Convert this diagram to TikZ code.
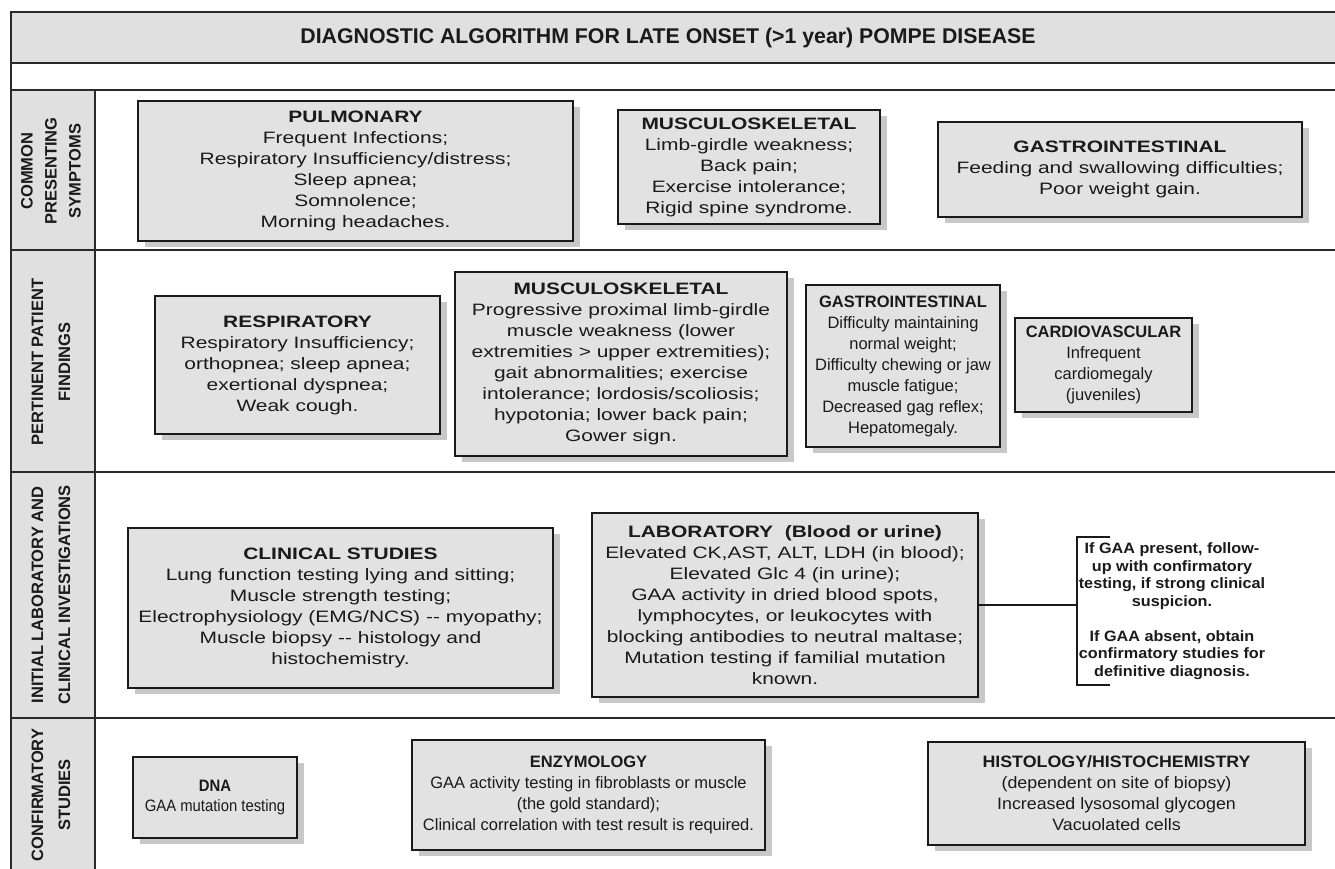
\documentclass[tikz,border=0pt]{standalone}
\usepackage{fontspec}
\setmainfont{Liberation Sans}
\newfontfamily\fW[FakeStretch=1.27]{Liberation Sans}
\newfontfamily\fM[FakeStretch=1.08]{Liberation Sans}
\newfontfamily\fN[FakeStretch=1.0]{Liberation Sans}
\newfontfamily\fS[FakeStretch=0.9]{Liberation Sans}
\usetikzlibrary{shadows}
\definecolor{boxfill}{HTML}{E2E2E2}
\definecolor{bandfill}{HTML}{E0E0E0}
\definecolor{ink}{HTML}{1A1A1A}
\definecolor{rulec}{HTML}{2A2A2A}
\definecolor{shade}{HTML}{C8C8C8}
\begin{document}
\begin{tikzpicture}[x=1pt,y=-1pt,
  rulel/.style={draw=rulec, line width=2.2pt},
  box/.style={draw=ink, line width=1.7pt, fill=boxfill, align=center, text=ink, inner sep=0pt,
    drop shadow={shadow xshift=7pt, shadow yshift=-6pt, fill=shade, opacity=1}},
  wide/.style={font=\fW\fontsize{16.5}{21}\selectfont},
  mid/.style={font=\fM\fontsize{16.5}{21}\selectfont},
  norm/.style={font=\fN\fontsize{16.5}{21}\selectfont},
  small/.style={font=\fS\fontsize{16.5}{20}\selectfont},
  rowlab/.style={align=center, text=ink, inner sep=0pt, rotate=90},
  titlet/.style={text=ink, inner sep=0pt, font=\fN\bfseries\fontsize{21.3}{25}\selectfont},
  notet/.style={align=center, text=ink, inner sep=0pt, font=\fM\bfseries\fontsize{15}{17.5}\selectfont},
  link/.style={draw=ink, line width=1.7pt}
]
\useasboundingbox (0,0) rectangle (1335,868);
\clip (0,0) rectangle (1335,868);
% table frame
\fill[bandfill] (11,12) rectangle (1345,63);
\fill[bandfill] (11,90) rectangle (95,880);
\draw[rulel] (1345,12) -- (11,12) -- (11,880);
\foreach \yy in {63,90,250,472,718} { \draw[rulel] (11,\yy) -- (1345,\yy); }
\draw[rulel] (95,90) -- (95,880);

\node[titlet] (title) at (668,38) {DIAGNOSTIC ALGORITHM FOR LATE ONSET (>1 year) POMPE DISEASE};

% row labels
\node[rowlab, font=\fN\bfseries\fontsize{16.5}{24}\selectfont] (l1) at (51,171) {COMMON\\PRESENTING\\SYMPTOMS};
\node[rowlab, font=\fN\bfseries\fontsize{16.5}{27}\selectfont] (l2) at (51,362) {PERTINENT PATIENT\\FINDINGS};
\node[rowlab, font=\fN\bfseries\fontsize{16.5}{27}\selectfont] (l3) at (51,595) {INITIAL LABORATORY AND\\CLINICAL INVESTIGATIONS};
\node[rowlab, font=\fN\bfseries\fontsize{16.5}{27}\selectfont] (l4) at (51,795) {CONFIRMATORY\\STUDIES};

% row 1
\node[box, wide, minimum width=435, minimum height=140] (pulm) at (355.5,171)
  {\textbf{PULMONARY}\\Frequent Infections;\\Respiratory Insufficiency/distress;\\Sleep apnea;\\Somnolence;\\Morning headaches.};
\node[box, wide, minimum width=262, minimum height=114] (musc1) at (749,167)
  {\textbf{MUSCULOSKELETAL}\\Limb-girdle weakness;\\Back pain;\\Exercise intolerance;\\Rigid spine syndrome.};
\node[box, wide, minimum width=364, minimum height=95] (gi1) at (1120,169.5)
  {\textbf{GASTROINTESTINAL}\\Feeding and swallowing difficulties;\\Poor weight gain.};

% row 2
\node[box, wide, minimum width=285, minimum height=138] (resp) at (297.5,365)
  {\textbf{RESPIRATORY}\\Respiratory Insufficiency;\\orthopnea; sleep apnea;\\exertional dyspnea;\\Weak cough.};
\node[box, wide, minimum width=332, minimum height=184] (musc2) at (621,364)
  {\textbf{MUSCULOSKELETAL}\\Progressive proximal limb-girdle\\muscle weakness (lower\\extremities > upper extremities);\\gait abnormalities; exercise\\intolerance; lordosis/scoliosis;\\hypotonia; lower back pain;\\Gower sign.};
\node[box, norm, minimum width=194, minimum height=162] (gi2) at (903,366)
  {\textbf{GASTROINTESTINAL}\\Difficulty maintaining\\normal weight;\\Difficulty chewing or jaw\\muscle fatigue;\\Decreased gag reflex;\\Hepatomegaly.};
\node[box, norm, minimum width=177, minimum height=94] (cardio) at (1103.5,365)
  {\textbf{CARDIOVASCULAR}\\Infrequent\\cardiomegaly\\(juveniles)};

% row 3
\node[box, wide, minimum width=425, minimum height=160] (clin) at (340.5,608)
  {\textbf{CLINICAL STUDIES}\\Lung function testing lying and sitting;\\Muscle strength testing;\\Electrophysiology (EMG/NCS) -- myopathy;\\Muscle biopsy -- histology and\\histochemistry.};
\node[box, wide, minimum width=386, minimum height=184] (lab) at (785,605)
  {\textbf{LABORATORY\ \ (Blood or urine)}\\Elevated CK,AST, ALT, LDH (in blood);\\Elevated Glc 4 (in urine);\\GAA activity in dried blood spots,\\lymphocytes, or leukocytes with\\blocking antibodies to neutral maltase;\\Mutation testing if familial mutation\\known.};
\coordinate (btop) at (1077,537);
\coordinate (bbot) at (1077,685);
\coordinate (bmid) at (1077,605);
\coordinate (btopend) at (1110,537);
\coordinate (bbotend) at (1110,685);
\draw[link] (btopend) -- (btop) -- (bbot) -- (bbotend);
\draw[link] (lab.east) -- (bmid);
\node[notet] (note) at (1172,611)
  {If GAA present, follow-\\up with confirmatory\\testing, if strong clinical\\suspicion.\\[17.5pt]If GAA absent, obtain\\confirmatory studies for\\definitive diagnosis.};

% row 4
\node[box, small, minimum width=164, minimum height=81] (dna) at (215,797.5)
  {\textbf{DNA}\\GAA mutation testing};
\node[box, norm, minimum width=353, minimum height=110] (enz) at (588.5,795)
  {\textbf{ENZYMOLOGY}\\GAA activity testing in fibroblasts or muscle\\(the gold standard);\\Clinical correlation with test result is required.};
\node[box, mid, minimum width=377, minimum height=103] (hist) at (1116.5,793.5)
  {\textbf{HISTOLOGY/HISTOCHEMISTRY}\\(dependent on site of biopsy)\\Increased lysosomal glycogen\\Vacuolated cells};
\end{tikzpicture}
\end{document}
